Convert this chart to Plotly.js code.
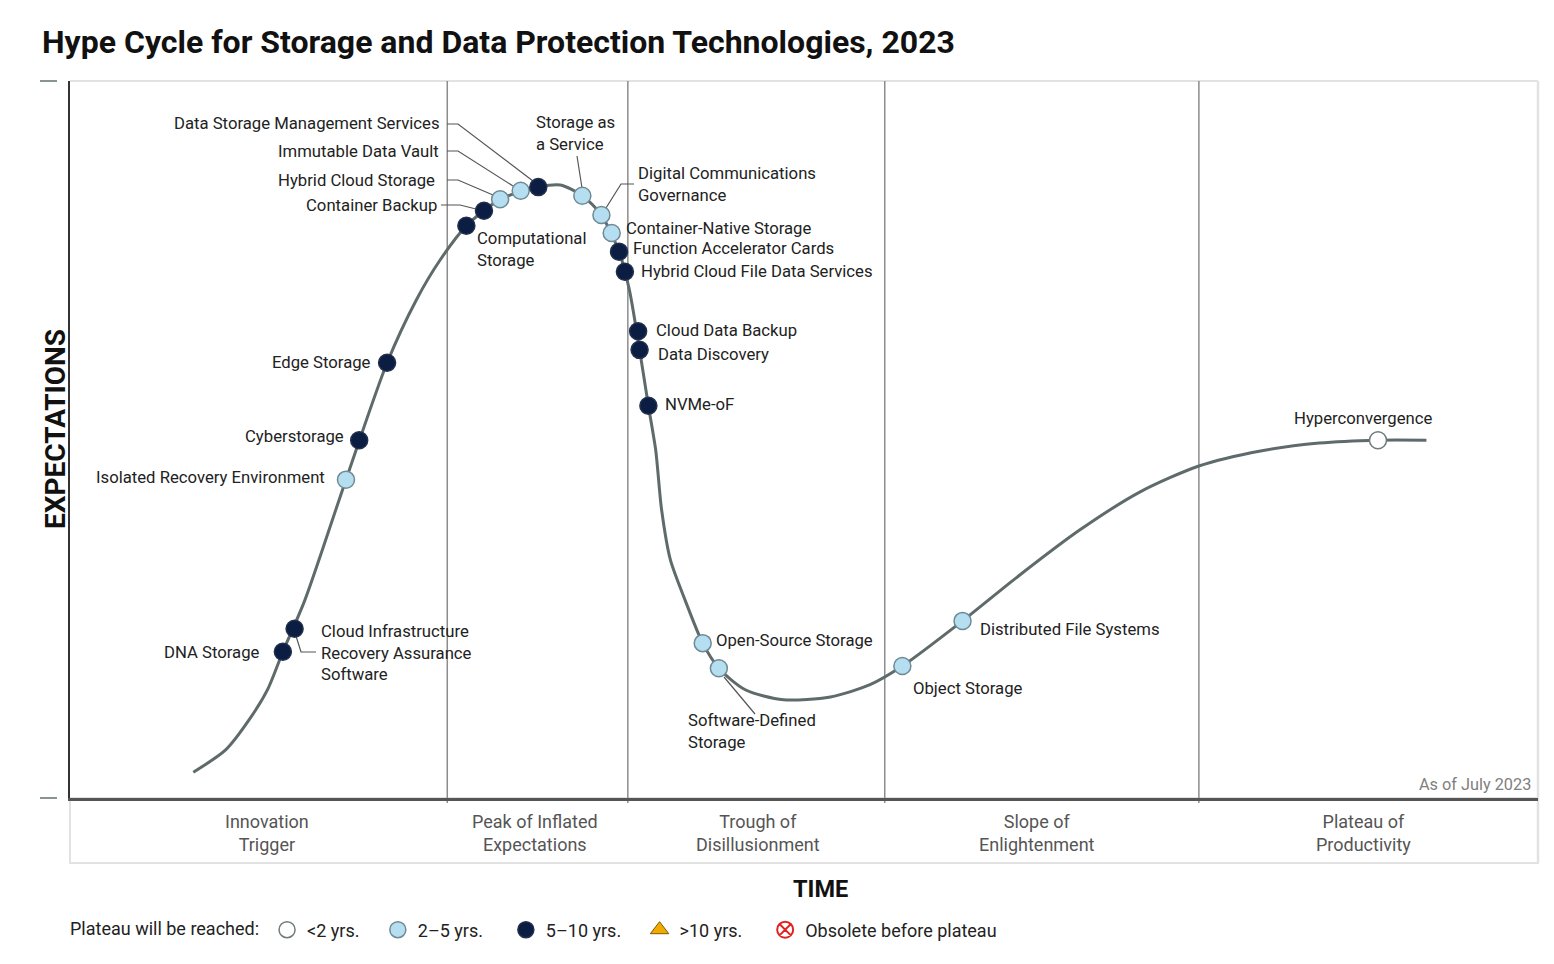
<!DOCTYPE html>
<html><head><meta charset="utf-8">
<script src="https://cdn.plot.ly/plotly-3.0.1.min.js"></script>
<style>html,body{margin:0;padding:0;background:#fff}#chart{width:1554px;height:964px}</style>
</head><body><div id="chart"></div>
<script>
// ---------------- DATA ----------------
// Hype curve, x = time (0-100), y = expectations (0-100)
const curveX = [8.4, 10.6, 12.3, 13.5, 14.5, 16.0, 18.8, 21.6, 23.6, 25.2, 27.0, 29.3, 31.9, 33.4, 34.9, 36.2, 37.4, 38.1, 38.8, 39.4, 39.9, 40.3, 40.9, 41.9, 43.1, 44.2, 46.0, 48.6, 51.8, 54.5, 56.7, 60.8, 64.7, 68.8, 72.9, 76.9, 81.1, 85.1, 89.1, 92.4];
const curveY = [3.6, 6.7, 11.2, 15.3, 20.4, 27.6, 44.4, 60.7, 69.5, 75.0, 79.8, 83.5, 85.2, 85.5, 84.0, 81.3, 76.2, 70.9, 62.5, 54.7, 48.5, 40.2, 33.2, 27.6, 21.6, 18.1, 15.1, 13.7, 14.1, 15.8, 18.4, 24.7, 31.1, 37.4, 42.7, 46.3, 48.4, 49.5, 49.9, 49.9];

const techNames = ['DNA Storage', 'Cloud Infrastructure Recovery Assurance Software', 'Isolated Recovery Environment', 'Cyberstorage', 'Edge Storage', 'Computational Storage', 'Container Backup', 'Hybrid Cloud Storage', 'Immutable Data Vault', 'Data Storage Management Services', 'Storage as a Service', 'Digital Communications Governance', 'Container-Native Storage', 'Function Accelerator Cards', 'Hybrid Cloud File Data Services', 'Cloud Data Backup', 'Data Discovery', 'NVMe-oF', 'Open-Source Storage', 'Software-Defined Storage', 'Object Storage', 'Distributed File Systems', 'Hyperconvergence'];
const techX = [14.5, 15.3, 18.8, 19.7, 21.6, 27.0, 28.2, 29.3, 30.7, 31.9, 34.9, 36.2, 36.9, 37.4, 37.8, 38.7, 38.8, 39.4, 43.1, 44.2, 56.7, 60.8, 89.1];
const techY = [20.4, 23.6, 44.4, 49.9, 60.7, 79.8, 81.9, 83.5, 84.7, 85.2, 84.0, 81.3, 78.8, 76.2, 73.4, 65.1, 62.5, 54.7, 21.6, 18.1, 18.4, 24.7, 49.9];
const techPlateau = ['5-10', '5-10', '2-5', '5-10', '5-10', '5-10', '5-10', '2-5', '2-5', '5-10', '2-5', '2-5', '2-5', '5-10', '5-10', '5-10', '5-10', '5-10', '2-5', '2-5', '2-5', '2-5', '<2'];

const plateauKeys = ['<2', '2-5', '5-10', '>10', 'obsolete'];
const plateauLabels = ['&lt;2 yrs.', '2–5 yrs.', '5–10 yrs.', '&gt;10 yrs.', 'Obsolete before plateau'];

const phaseNames = ['Innovation<br>Trigger', 'Peak of Inflated<br>Expectations', 'Trough of<br>Disillusionment', 'Slope of<br>Enlightenment', 'Plateau of<br>Productivity'];
const phaseCenters = [13.4, 31.7, 46.9, 65.9, 88.1];
const phaseBounds = [25.7, 38.0, 55.5, 76.9];

// ---------------- STYLE / LAYOUT ----------------
const W = 1554, H = 964;
const PX = v => v / W;          // pixel x -> paper
const PY = v => 1 - v / H;      // pixel y -> paper
const FONT = 'Roboto, "Liberation Sans", Arial, sans-serif';

const markerStyle = {
  '<2':       {symbol: 'circle', color: '#ffffff', line: {color: '#6f7b7b', width: 1.5}},
  '2-5':      {symbol: 'circle', color: '#b5def0', line: {color: '#6f8a94', width: 1.5}},
  '5-10':     {symbol: 'circle', color: '#0b1d42', line: {color: '#22304d', width: 1.5}},
  '>10':      {symbol: 'triangle-up', color: '#f2a900', line: {color: '#7a5a00', width: 1}},
  'obsolete': {symbol: 'circle-x-open', color: '#e02424', line: {color: '#e02424', width: 2}}
};
const NB = '\u00A0';
const legendPad = [NB.repeat(3), NB.repeat(4), NB.repeat(3), NB.repeat(4), ''];

// label placement (pixel positions of the label text)
const labelPos = {
  'DNA Storage': [262, 652, 'right'],
  'Cloud Infrastructure Recovery Assurance Software': [319, 653, 'left', 'Cloud Infrastructure<br>Recovery Assurance<br>Software'],
  'Isolated Recovery Environment': [327, 477, 'right'],
  'Cyberstorage': [346, 437, 'right'],
  'Edge Storage': [373, 362, 'right'],
  'Computational Storage': [475, 250, 'left', 'Computational<br>Storage'],
  'Container Backup': [439, 205, 'right'],
  'Hybrid Cloud Storage': [437, 180, 'right'],
  'Immutable Data Vault': [441, 151, 'right'],
  'Data Storage Management Services': [442, 124, 'right'],
  'Storage as a Service': [534, 134, 'left', 'Storage as<br>a Service'],
  'Digital Communications Governance': [636, 185, 'left', 'Digital Communications<br>Governance'],
  'Container-Native Storage': [624, 228, 'left'],
  'Function Accelerator Cards': [631, 249, 'left'],
  'Hybrid Cloud File Data Services': [639, 271, 'left'],
  'Cloud Data Backup': [654, 330, 'left'],
  'Data Discovery': [656, 354, 'left'],
  'NVMe-oF': [663, 404, 'left'],
  'Open-Source Storage': [714, 640, 'left'],
  'Software-Defined Storage': [686, 731, 'left', 'Software-Defined<br>Storage'],
  'Object Storage': [911, 688, 'left'],
  'Distributed File Systems': [978, 629, 'left'],
  'Hyperconvergence': [1363, 418, 'center']
};
const leaderPaths = [
  [[447,124],[458,124],[533,181]],
  [[447,151],[458,151],[513,186]],
  [[447,180],[458,180],[493,195]],
  [[441,205],[460,205],[476,209]],
  [[577,156],[582,188]],
  [[634,184],[621,184],[606,208]],
  [[296,636],[301,652],[316,652]],
  [[724,677],[755,714]]
];

// ---------------- TRACES ----------------
const traces = [{
  x: curveX, y: curveY, type: 'scatter', mode: 'lines',
  line: {shape: 'spline', smoothing: 0.75, color: '#5f6a6a', width: 3},
  hoverinfo: 'skip', showlegend: false
}];
plateauKeys.forEach((k, i) => {
  const idx = techPlateau.map((p, j) => p === k ? j : -1).filter(j => j >= 0);
  const st = markerStyle[k];
  traces.push({
    x: idx.length ? idx.map(j => techX[j]) : [null],
    y: idx.length ? idx.map(j => techY[j]) : [null],
    text: idx.map(j => techNames[j]),
    type: 'scatter', mode: 'markers', name: plateauLabels[i] + legendPad[i],
    marker: {symbol: st.symbol, size: 17, color: st.color, line: st.line},
    hovertemplate: '%{text}<extra></extra>', showlegend: true
  });
});

// ---------------- ANNOTATIONS ----------------
const annotations = [];
techNames.forEach(n => {
  const p = labelPos[n];
  annotations.push({
    xref: 'paper', yref: 'paper', x: PX(p[0]), y: PY(p[1]),
    xanchor: p[2], yanchor: 'middle', align: p[2] === 'center' ? 'center' : 'left',
    text: p[3] || n, showarrow: false,
    font: {family: FONT, size: 16.7, color: '#222'}
  });
});
phaseNames.forEach((n, i) => {
  annotations.push({
    xref: 'x', yref: 'paper', x: phaseCenters[i], y: PY(832.5),
    xanchor: 'center', yanchor: 'middle', align: 'center',
    text: n, showarrow: false, font: {family: FONT, size: 18, color: '#555'}
  });
});
annotations.push(
  {xref: 'paper', yref: 'paper', x: PX(1533), y: PY(784), xanchor: 'right', yanchor: 'middle',
   text: 'As of July 2023', showarrow: false, font: {family: FONT, size: 16.3, color: '#808080'}},
  {xref: 'paper', yref: 'paper', x: PX(55), y: PY(429), xanchor: 'center', yanchor: 'middle',
   text: '<b>EXPECTATIONS</b>', textangle: -90, showarrow: false, font: {family: FONT, size: 28, color: '#111'}},
  {xref: 'paper', yref: 'paper', x: PX(820), y: PY(889), xanchor: 'center', yanchor: 'middle',
   text: '<b>TIME</b>', showarrow: false, font: {family: FONT, size: 23.5, color: '#111'}}
);

// ---------------- SHAPES ----------------
const shapes = [];
const line = (x0, y0, x1, y1, color, width) => ({type: 'line', xref: 'paper', yref: 'paper',
  x0: PX(x0), y0: PY(y0), x1: PX(x1), y1: PY(y1), line: {color, width}, layer: 'below'});
shapes.push(line(70, 81, 1538, 81, '#e2e2e2', 2));
shapes.push(line(1538, 81, 1538, 863, '#e2e2e2', 2.5));
shapes.push({type: 'rect', xref: 'paper', yref: 'paper', x0: PX(70), y0: PY(798), x1: PX(1538), y1: PY(863),
  line: {color: '#e2e2e2', width: 2}, layer: 'below'});
shapes.push(line(40, 81, 57, 81, '#8a9494', 2));
shapes.push(line(40, 798, 57, 798, '#8a9494', 2));
phaseBounds.forEach(b => shapes.push({type: 'line', xref: 'x', yref: 'paper', x0: b, x1: b,
  y0: PY(81), y1: PY(803), line: {color: '#8c8c8c', width: 1.5}, layer: 'below'}));
leaderPaths.forEach(pts => shapes.push({type: 'path', xref: 'paper', yref: 'paper',
  path: pts.map((p, i) => (i ? 'L' : 'M') + PX(p[0]) + ',' + PY(p[1])).join(' '),
  line: {color: '#555', width: 1.2}, layer: 'below'}));

// ---------------- LAYOUT ----------------
const layout = {
  width: W, height: H, autosize: false,
  margin: {l: 0, r: 0, t: 0, b: 0, pad: 0},
  paper_bgcolor: '#fff', plot_bgcolor: '#fff',
  font: {family: FONT, color: '#222'},
  title: {text: '<b>Hype Cycle for Storage and Data Protection Technologies, 2023</b>',
    x: PX(42), xanchor: 'left', xref: 'paper', y: PY(42), yref: 'paper', yanchor: 'middle',
    font: {family: FONT, size: 32, color: '#111'}},
  xaxis: {domain: [PX(70), PX(1538)], range: [0, 100], showgrid: false, zeroline: false,
    showticklabels: false, ticks: '', showline: true, linecolor: '#555', linewidth: 3, fixedrange: true},
  yaxis: {domain: [PY(798), PY(81)], range: [0, 100], showgrid: false, zeroline: false,
    showticklabels: false, ticks: '', showline: true, linecolor: '#333', linewidth: 2, fixedrange: true},
  showlegend: true,
  legend: {orientation: 'h', x: PX(68), xanchor: 'left', y: PY(930), yanchor: 'middle',
    title: {text: 'Plateau will be reached:', side: 'left', font: {family: FONT, size: 18, color: '#222'}},
    font: {family: FONT, size: 18, color: '#222'}, bgcolor: 'rgba(0,0,0,0)', itemclick: false, itemdoubleclick: false},
  annotations, shapes
};

Plotly.newPlot('chart', traces, layout, {displayModeBar: false});
</script>
</body></html>
